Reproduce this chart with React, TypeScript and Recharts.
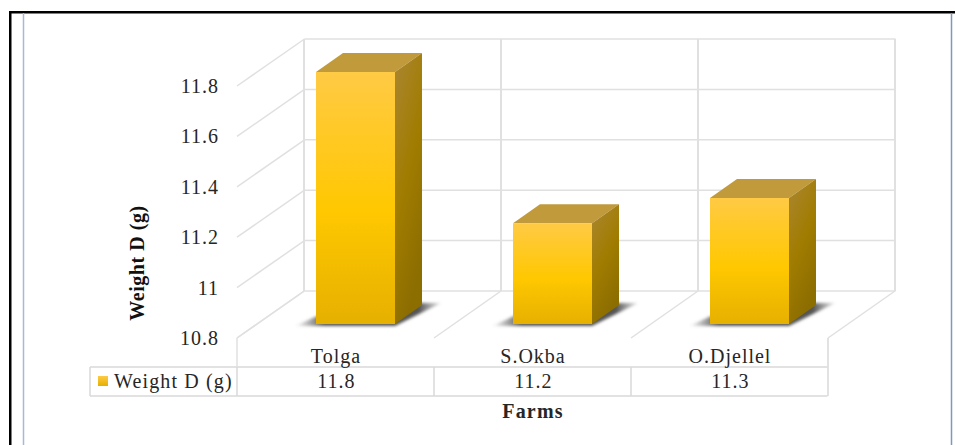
import React from "react";
import { BarChart, Bar, XAxis, YAxis, Customized, CartesianGrid } from "recharts";

const farms = ["Tolga", "S.Okba", "O.Djellel"];
const weights = [11.8, 11.2, 11.3];
const yTicks = [10.8, 11, 11.2, 11.4, 11.6, 11.8];
const yTickLabels = ["10.8", "11", "11.2", "11.4", "11.6", "11.8"];
const seriesName = "Weight D (g)";
const xTitle = "Farms";

const rows = farms.map((farm, i) => ({ farm, weight: weights[i] }));

const W = 955, H = 445;
const PLOT = { left: 257, right: 848, top: 72, bottom: 324 };
const SERIF = "'Liberation Serif', 'Times New Roman', serif";
const GRID = "#e0e0e0";
const TABLE = "#d9d9d9";
const TEXT = "#262626";
const DX = 47.5, UP = 33, DOWN = 14; // wall and front-plane offsets from the plot
const BAND = 197;
const TABLE_TOP = 367, TABLE_BOTTOM = 396, TABLE_LEFT = 90;
const FONT = 20;
const Y_MIN = yTicks[0];
const Y_MAX = yTicks[yTicks.length - 1];

function wallLines() {
  const h = PLOT.bottom - PLOT.top;
  return yTicks.map((t) => PLOT.top + (h * (Y_MAX - t)) / (Y_MAX - Y_MIN) - UP);
}

function YTick(props: any) {
  const y = props.y;
  const i = yTicks.indexOf(props.payload.value);
  const frontX = 237, wallX = PLOT.left + DX;
  return (
    <g>
      <line x1={frontX} y1={y + DOWN} x2={wallX} y2={y - UP} stroke={GRID} strokeWidth={1.5} />
      <text x={219} y={y + DOWN + 7} textAnchor="end" fontFamily={SERIF} fontSize={FONT} letterSpacing={1} fill={TEXT}>
        {yTickLabels[i]}
      </text>
    </g>
  );
}

function XTick(props: any) {
  const cx = props.x;
  const i = props.payload.index ?? farms.indexOf(props.payload.value);
  const left = cx - 118.5;
  const right = left + BAND;
  const floorFront = PLOT.bottom + DOWN, floorBack = PLOT.bottom - UP;
  const wallBottom = floorBack, wallTop = PLOT.top - UP;
  const lastLines = i === farms.length - 1;
  return (
    <g>
      <line x1={left} y1={floorFront} x2={left + 67} y2={floorBack} stroke={GRID} strokeWidth={1.5} />
      <line x1={left + 67} y1={wallTop} x2={left + 67} y2={wallBottom} stroke={GRID} strokeWidth={2} />
      {i === 0 && <line x1={left} y1={floorFront} x2={left} y2={TABLE_TOP} stroke={GRID} strokeWidth={1.5} />}
      <line x1={left} y1={TABLE_TOP} x2={left} y2={TABLE_BOTTOM} stroke={TABLE} strokeWidth={1.5} />
      {lastLines && (
        <g>
          <line x1={right} y1={floorFront} x2={right + 67} y2={floorBack} stroke={GRID} strokeWidth={1.5} />
          <line x1={right + 67} y1={wallTop} x2={right + 67} y2={wallBottom} stroke={GRID} strokeWidth={2} />
          <line x1={right} y1={floorFront} x2={right} y2={TABLE_BOTTOM} stroke={TABLE} strokeWidth={1.5} />
        </g>
      )}
      <text x={cx - 19.5} y={363} textAnchor="middle" fontFamily={SERIF} fontSize={FONT} letterSpacing={1} fill={TEXT}>
        {props.payload.value}
      </text>
      <text x={cx - 19} y={388} textAnchor="middle" fontFamily={SERIF} fontSize={FONT} letterSpacing={1} fill={TEXT}>
        {weights[i]}
      </text>
    </g>
  );
}

function Bar3D(props: any) {
  const { x, y, width, height } = props;
  const dx = 27, dy = 19;
  const b = y + height, r = x + width;
  return (
    <g>
      <defs>
        <linearGradient id="front" x1="0" y1="0" x2="0" y2="1">
          <stop offset="0" stopColor="#ffca45" />
          <stop offset="0.55" stopColor="#ffc800" />
          <stop offset="1" stopColor="#e6b000" />
        </linearGradient>
        <linearGradient id="side" x1="0" y1="0" x2="0.4" y2="1">
          <stop offset="0" stopColor="#ab8632" />
          <stop offset="0.55" stopColor="#a07c00" />
          <stop offset="1" stopColor="#8c6d00" />
        </linearGradient>
        <linearGradient id="shadow" x1="0" y1="0" x2="1" y2="0">
          <stop offset="0" stopColor="#666" stopOpacity="0" />
          <stop offset="0.2" stopColor="#555" />
          <stop offset="0.85" stopColor="#555" />
          <stop offset="1" stopColor="#777" stopOpacity="0.2" />
        </linearGradient>
        <filter id="blur" x="-20%" y="-50%" width="140%" height="200%">
          <feGaussianBlur stdDeviation="1.4" />
        </filter>
      </defs>
      <polygon
        points={`${x - 21},${b + 2} ${r},${b + 2} ${r + 46},${b - 21} ${x + 30},${b - 21}`}
        fill="url(#shadow)"
        filter="url(#blur)"
      />
      <polygon points={`${x},${y} ${x + dx},${y - dy} ${r + dx},${y - dy} ${r},${y}`} fill="#c19a3b" />
      <polygon points={`${r},${y} ${r + dx},${y - dy} ${r + dx},${b - dy} ${r},${b}`} fill="url(#side)" />
      <rect x={x} y={y} width={width} height={height} fill="url(#front)" />
    </g>
  );
}

function Decor() {
  return (
    <g>
      <rect x={9} y={11} width={W - 9} height={2.5} fill="#000" />
      <rect x={9} y={11} width={2.5} height={H - 11} fill="#000" />
      <line x1={23.5} y1={13} x2={23.5} y2={H} stroke="#a9b8d6" strokeWidth={1.5} />
      <line x1={951.5} y1={13} x2={951.5} y2={H} stroke="#7f99bb" strokeWidth={1.5} />
      <line x1={TABLE_LEFT} y1={TABLE_TOP} x2={827.5} y2={TABLE_TOP} stroke={TABLE} strokeWidth={1.5} />
      <line x1={TABLE_LEFT} y1={TABLE_BOTTOM} x2={827.5} y2={TABLE_BOTTOM} stroke={TABLE} strokeWidth={1.5} />
      <line x1={TABLE_LEFT} y1={TABLE_TOP} x2={TABLE_LEFT} y2={TABLE_BOTTOM} stroke={TABLE} strokeWidth={1.5} />
      <defs>
        <linearGradient id="key" x1="0" y1="0" x2="0" y2="1">
          <stop offset="0" stopColor="#ffca45" />
          <stop offset="1" stopColor="#e6b000" />
        </linearGradient>
      </defs>
      <rect x={98} y={376} width={10} height={10} fill="url(#key)" />
      <text x={114} y={388} fontFamily={SERIF} fontSize={FONT} letterSpacing={1.15} fill={TEXT}>{seriesName}</text>
      <text x={533} y={418} textAnchor="middle" fontFamily={SERIF} fontSize={FONT} fontWeight="bold" letterSpacing={1.2} fill={TEXT}>{xTitle}</text>
      <text
        transform="translate(144,263) rotate(-90)"
        textAnchor="middle"
        fontFamily={SERIF}
        fontSize={FONT}
        fontWeight="bold"
        letterSpacing={0.55}
        fill="#111"
      >
        {seriesName}
      </text>
    </g>
  );
}

export default function App() {
  return (
    <div style={{ position: "absolute", left: 0, top: 0, width: W, height: H, background: "#fff" }}>
      <BarChart
        width={W}
        height={H}
        data={rows}
        barSize={79}
        margin={{ left: PLOT.left - 1, right: W - PLOT.right, top: PLOT.top, bottom: H - PLOT.bottom - 1 }}
      >
        <CartesianGrid
          x={PLOT.left + DX}
          y={PLOT.top - UP}
          width={BAND * 3}
          height={PLOT.bottom - PLOT.top}
          vertical={false}
          stroke={GRID}
          strokeWidth={1.5}
          horizontalCoordinatesGenerator={wallLines}
        />
        <Customized component={<Decor />} />
        <XAxis dataKey="farm" height={1} axisLine={false} tickLine={false} tickSize={0} interval={0} tick={<XTick />} />
        <YAxis width={1} domain={[10.8, 11.8]} ticks={yTicks} axisLine={false} tickLine={false} interval={0} tick={<YTick />} />
        <Bar dataKey="weight" name={seriesName} isAnimationActive={false} shape={<Bar3D />} />
      </BarChart>
    </div>
  );
}
